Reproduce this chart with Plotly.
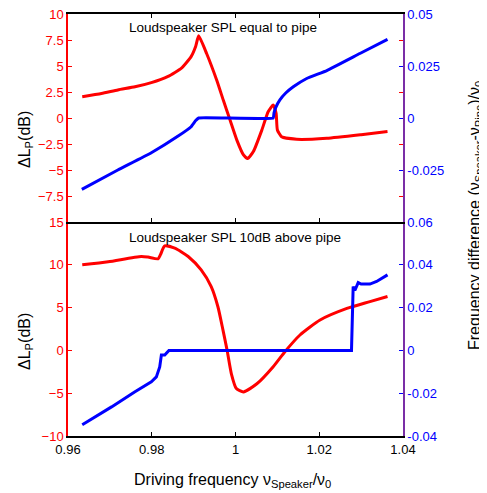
import plotly.graph_objects as go

# ---------------- data ----------------
# Top panel: Loudspeaker SPL equal to pipe
top_red_x = [0.9634, 0.9680, 0.9719, 0.9760, 0.9799, 0.9839, 0.9871, 0.9894, 0.9905, 0.9912,
             0.9931, 0.9955, 0.9971, 0.9987, 1.0003, 1.0019, 1.0029, 1.0043, 1.0063, 1.0078,
             1.0090, 1.0097, 1.0100, 1.0110, 1.0146, 1.0218, 1.0300, 1.0363]
top_red_y = [2.05, 2.35, 2.7, 3.0, 3.4, 4.0, 4.8, 5.9, 6.9, 7.9,
             6.2, 3.65, 1.7, -0.2, -2.1, -3.55, -3.9, -3.2, -1.15, 0.6,
             1.25, 0.45, -1.15, -1.8, -2.05, -1.95, -1.6, -1.3]
top_blue_x = [0.9633, 0.9719, 0.9799, 0.9863, 0.9894, 0.9905, 0.9912, 1.0090, 1.0092, 1.0096,
              1.0106, 1.0120, 1.0138, 1.0170, 1.0218, 1.0297, 1.0363]
top_blue_y = [-0.0343, -0.025, -0.0167, -0.0087, -0.0042, -0.0012, 0.0, 0.0, 0.0025, 0.0050,
              0.0087, 0.0120, 0.015, 0.0190, 0.0228, 0.031, 0.0378]

# Bottom panel: Loudspeaker SPL 10dB above pipe
bot_red_x = [0.9634, 0.9696, 0.9775, 0.9791, 0.9815, 0.9821, 0.9831, 0.9855, 0.9887, 0.9918,
             0.9942, 0.9958, 0.9970, 0.9980, 0.9990, 1.0002, 1.0019, 1.0051, 1.0090, 1.0118,
             1.0154, 1.0202, 1.0266, 1.0321, 1.0363]
bot_red_y = [10.0, 10.35, 10.97, 10.9, 10.7, 11.2, 12.2, 11.95, 10.97, 9.4,
             7.45, 5.1, 2.4, 0.0, -2.7, -4.45, -4.85, -3.9, -1.9, -0.15,
             1.8, 3.55, 4.9, 5.7, 6.3]
bot_blue_x = [0.9634, 0.9704, 0.9759, 0.9799, 0.9811, 0.9816, 0.9819, 0.9823, 0.9831, 0.9841,
              1.0277, 1.0281, 1.0285, 1.0293, 1.0300, 1.0321, 1.0337, 1.0363]
bot_blue_y = [-0.0347, -0.0264, -0.0194, -0.0147, -0.0124, -0.0100, -0.0077, -0.0022, -0.0022, 0.0,
              0.0, 0.0298, 0.0280, 0.0317, 0.0310, 0.0310, 0.0322, 0.0353]

x_ticks = [0.96, 0.98, 1.0, 1.02, 1.04]
x_ticktext = ["0.96", "0.98", "1", "1.02", "1.04"]
top_left_ticks = [-7.5, -5, -2.5, 0, 2.5, 5, 7.5, 10]
top_left_text = ["\u22127.5", "\u22125", "\u22122.5", "0", "2.5", "5", "7.5", "10"]
top_right_ticks = [-0.025, 0, 0.025, 0.05]
top_right_text = ["-0.025", "0", "0.025", "0.05"]
bot_left_ticks = [-10, -5, 0, 5, 10, 15]
bot_left_text = ["\u221210", "\u22125", "0", "5", "10", "15"]
bot_right_ticks = [-0.04, -0.02, 0, 0.02, 0.04, 0.06]
bot_right_text = ["-0.04", "-0.02", "0", "0.02", "0.04", "0.06"]

# ---------------- layout geometry ----------------
W, H = 487, 493
OFF = 8  # page body margin offset of the figure in the browser window
def px(xp): return (xp - OFF) / W
def py(yp): return 1 - (yp - OFF) / H

xdom = [px(68), px(403)]
top_dom = [py(222), py(14)]
bot_dom = [py(436), py(222)]

RED = "#ff0000"
BLUE = "#0000ff"
PURPLE = "#7a2ea6"
FONT = "Liberation Sans, Arial, sans-serif"
TS = 13

fig = go.Figure()
fig.add_trace(go.Scatter(x=bot_red_x, y=bot_red_y, xaxis="x", yaxis="y", mode="lines",
                         line=dict(color=RED, width=3, shape="spline", smoothing=0.6)))
fig.add_trace(go.Scatter(x=bot_blue_x, y=bot_blue_y, xaxis="x", yaxis="y2", mode="lines",
                         line=dict(color=BLUE, width=3)))
fig.add_trace(go.Scatter(x=top_red_x, y=top_red_y, xaxis="x2", yaxis="y3", mode="lines",
                         line=dict(color=RED, width=3, shape="spline", smoothing=0.5)))
fig.add_trace(go.Scatter(x=top_blue_x, y=top_blue_y, xaxis="x2", yaxis="y4", mode="lines",
                         line=dict(color=BLUE, width=3, shape="spline", smoothing=0.3)))

common = dict(showgrid=False, zeroline=False, automargin=False, ticklabeloverflow="allow")

fig.update_layout(
    width=W, height=H,
    margin=dict(l=0, r=0, t=0, b=0, autoexpand=False),
    paper_bgcolor="white", plot_bgcolor="white",
    showlegend=False,
    font=dict(family=FONT, color="black"),
    xaxis=dict(domain=xdom, anchor="y", range=[0.96, 1.04], tickvals=x_ticks, ticktext=x_ticktext,
               ticks="inside", ticklen=4, tickcolor="black", showline=True, linecolor="black",
               linewidth=2, tickfont=dict(family=FONT, size=TS, color="black"), **common),
    xaxis2=dict(domain=xdom, anchor="y3", matches="x", range=[0.96, 1.04], tickvals=x_ticks,
                showticklabels=False, ticks="inside", ticklen=4, tickcolor="black", showline=True,
                linecolor="black", linewidth=1.5, mirror="ticks", **common),
    yaxis=dict(domain=bot_dom, anchor="x", range=[-10, 15], tickvals=bot_left_ticks, ticktext=bot_left_text,
               ticks="inside", ticklen=4, tickcolor=RED, showline=True, linecolor=RED, linewidth=1.5,
               mirror="ticks", tickfont=dict(family=FONT, size=TS, color=RED), **common),
    yaxis2=dict(domain=bot_dom, anchor="x", overlaying="y", side="right", range=[-0.04, 0.06],
                tickvals=bot_right_ticks, ticktext=bot_right_text, ticks="inside", ticklen=4, tickcolor=BLUE,
                showline=True, linecolor=PURPLE, linewidth=1.5,
                tickfont=dict(family=FONT, size=TS, color=BLUE), **common),
    yaxis3=dict(domain=top_dom, anchor="x2", range=[-10, 10], tickvals=top_left_ticks, ticktext=top_left_text,
                ticks="inside", ticklen=4, tickcolor=RED, showline=True, linecolor=RED, linewidth=1.5,
                mirror="ticks", tickfont=dict(family=FONT, size=TS, color=RED), **common),
    yaxis4=dict(domain=top_dom, anchor="x2", overlaying="y3", side="right", range=[-0.05, 0.05],
                tickvals=top_right_ticks, ticktext=top_right_text, ticks="inside", ticklen=4, tickcolor=BLUE,
                showline=True, linecolor=PURPLE, linewidth=1.5,
                tickfont=dict(family=FONT, size=TS, color=BLUE), **common),
)

ann = [
    dict(text="Loudspeaker SPL equal to pipe", x=px(223), y=py(27.5), size=13.5, angle=0),
    dict(text="Loudspeaker SPL 10dB above pipe", x=px(235), y=py(237), size=13.5, angle=0),
    dict(text="\u0394L<sub>P</sub>(dB)", x=px(25), y=py(140), size=16, angle=-90),
    dict(text="\u0394L<sub>P</sub>(dB)", x=px(25), y=py(342), size=16, angle=-90),
    dict(text="Frequency difference (\u03bd<sub>Speaker</sub>-\u03bd<sub>Pipe</sub>)/\u03bd<sub>0</sub>",
         x=px(475), y=py(216), size=16, angle=-90),
    dict(text="Driving frequency \u03bd<sub>Speaker</sub>/\u03bd<sub>0</sub>", x=px(232), y=py(480),
         size=16, angle=0),
]
for a in ann:
    fig.add_annotation(text=a["text"], x=a["x"], y=a["y"], xref="paper", yref="paper",
                       xanchor="center", yanchor="middle", showarrow=False, textangle=a["angle"],
                       font=dict(family=FONT, size=a["size"], color="black"))

fig.write_html("out.html")
